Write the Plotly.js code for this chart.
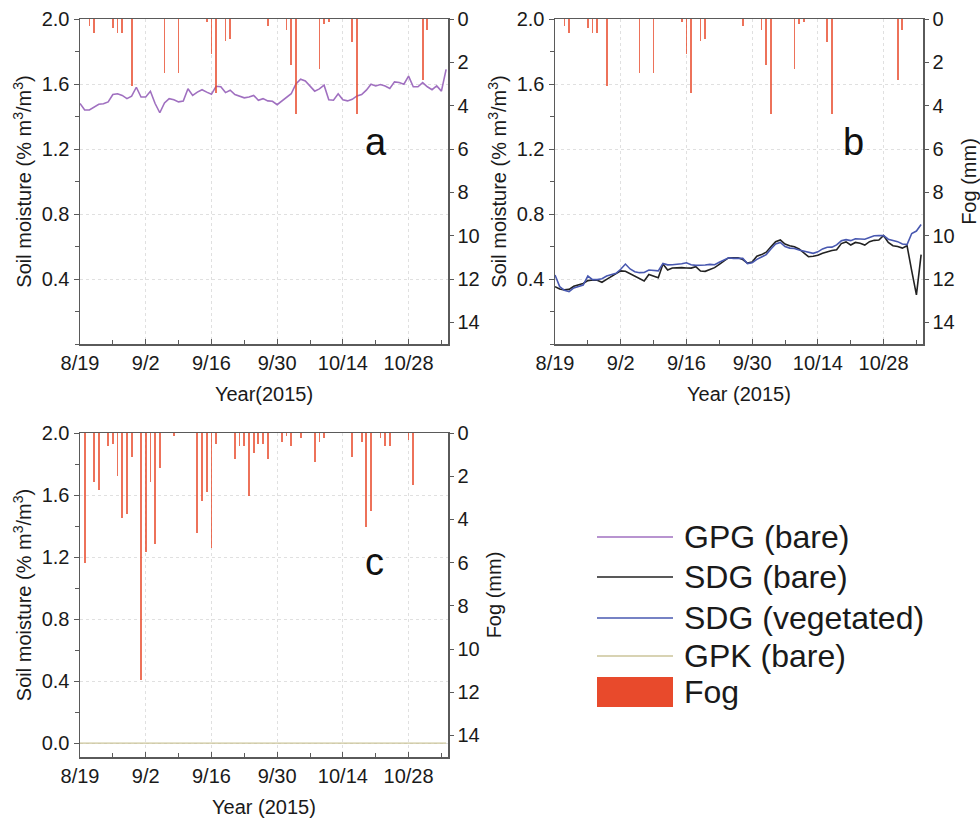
<!DOCTYPE html>
<html>
<head>
<meta charset="utf-8">
<script src="https://cdn.plot.ly/plotly-3.0.1.min.js"></script>
<style>html,body{margin:0;padding:0;background:#fff;}#chart{width:980px;height:824px;}</style>
</head>
<body>
<div id="chart"></div>
<script>
// ---- data (daily, day 0 = 2015-08-19) ----
const startDate = '2015-08-19';
const gpgBare = [1.48,1.44,1.44,1.46,1.475,1.478,1.49,1.535,1.54,1.53,1.51,1.525,1.58,1.52,1.52,1.555,1.48,1.423,1.483,1.51,
  1.503,1.49,1.495,1.571,1.53,1.55,1.565,1.55,1.537,1.586,1.583,1.547,1.562,1.535,1.525,1.515,1.52,1.53,1.5,1.51,
  1.496,1.494,1.473,1.496,1.516,1.54,1.60,1.63,1.619,1.588,1.556,1.57,1.593,1.503,1.5,1.54,1.503,1.496,1.506,1.527,
  1.535,1.562,1.599,1.588,1.597,1.588,1.572,1.613,1.609,1.599,1.648,1.583,1.583,1.609,1.583,1.565,1.588,1.556,1.69];
const sdgBare = [0.353,0.338,0.333,0.336,0.355,0.365,0.373,0.39,0.394,0.392,0.38,0.398,0.415,0.431,0.45,0.448,0.432,0.415,0.40,0.388,
  0.428,0.418,0.408,0.492,0.455,0.468,0.47,0.47,0.468,0.467,0.476,0.449,0.447,0.46,0.47,0.49,0.51,0.531,0.53,0.531,
  0.52,0.498,0.505,0.54,0.55,0.565,0.598,0.63,0.64,0.615,0.605,0.598,0.585,0.56,0.537,0.54,0.546,0.558,0.568,0.575,
  0.58,0.618,0.628,0.609,0.625,0.62,0.609,0.63,0.638,0.64,0.668,0.625,0.605,0.6,0.59,0.605,0.45,0.302,0.55];
const sdgVeg = [0.425,0.353,0.33,0.322,0.345,0.355,0.363,0.418,0.396,0.396,0.402,0.418,0.425,0.435,0.46,0.492,0.462,0.445,0.439,0.44,
  0.455,0.452,0.45,0.496,0.487,0.488,0.49,0.494,0.5,0.488,0.484,0.484,0.486,0.49,0.488,0.503,0.515,0.531,0.527,0.528,
  0.527,0.495,0.5,0.521,0.538,0.55,0.585,0.615,0.625,0.6,0.59,0.588,0.578,0.572,0.565,0.558,0.567,0.585,0.595,0.596,
  0.61,0.635,0.642,0.636,0.648,0.646,0.645,0.656,0.666,0.668,0.667,0.645,0.638,0.63,0.615,0.612,0.68,0.695,0.735];
const gpkBare = [0,0,0,0,0,0,0,0,0,0,0,0,0,0,0,0,0,0,0,0,
  0,0,0,0,0,0,0,0,0,0,0,0,0,0,0,0,0,0,0,0,
  0,0,0,0,0,0,0,0,0,0,0,0,0,0,0,0,0,0,0,0,
  0,0,0,0,0,0,0,0,0,0,0,0,0,0,0,0,0,0,0];
// fog (mm) at SDG / GPG sites (panels a, b)
const fogDaysAB = [2,3,7,8,9,11,18,21,27,28,29,31,32,40,44,45,46,51,52,53,58,59,73,74];
const fogAB     = [0.3,0.63,0.43,0.63,0.63,3.1,2.5,2.5,0.12,1.6,3.4,1.0,0.94,0.3,0.5,2.1,4.4,2.3,0.25,0.12,1.05,4.4,2.8,0.5];
// fog (mm) at GPK site (panel c)
const fogDaysC = [1,3,4,6,7,8,9,10,11,13,14,15,16,17,20,25,26,27,28,29,33,34,35,36,37,38,39,40,43,44,45,47,50,51,52,58,60,61,62,64,65,66,70,71];
const fogC     = [6.0,2.25,2.63,0.6,0.51,2.0,3.94,3.74,1.12,11.45,5.53,2.25,5.13,1.63,0.12,4.63,3.14,2.74,5.33,0.51,1.22,0.6,0.6,2.91,0.91,0.51,0.51,1.22,0.4,0.14,0.6,0.22,1.32,0.4,0.22,1.12,0.4,4.33,3.63,0.22,0.6,0.6,0.32,2.4];
const tickLabelsLeft = ['0.0','0.4','0.8','1.2','1.6','2.0'];
const tickLabelsFog = ['0','2','4','6','8','10','12','14'];
const seriesNames = ['GPG (bare)','SDG (bare)','SDG (vegetated)','GPK (bare)','Fog'];
const panelLabels = ['a','b','c'];

// ---- helpers ----
const DAY = 86400000;
const t0 = Date.UTC(2015, 7, 19);
function dayToDate(i){ const d = new Date(t0 + i*DAY); return d.toISOString().slice(0,10); }
const daysAll = gpgBare.map((_, i) => dayToDate(i));
const xEnd = new Date(t0 + 78.4*DAY).toISOString().replace('T',' ').slice(0,19);

const C_GPG = '#a070c0', C_SDGB = '#222222', C_SDGV = '#4858b0', C_GPK = '#cbc59a', C_FOG = '#e84a2c';
const FONT = 'Liberation Sans, Arial, sans-serif';
const TXT = '#1a1a1a';

const barStyle = {color:C_FOG, opacity:0.78, line:{width:0}};
const traces = [
  {x: daysAll, y: gpgBare, type:'scatter', mode:'lines', name:seriesNames[0], line:{color:C_GPG, width:1.6}, xaxis:'x', yaxis:'y'},
  {x: daysAll, y: sdgBare, type:'scatter', mode:'lines', name:seriesNames[1], line:{color:C_SDGB, width:1.6}, xaxis:'x2', yaxis:'y3'},
  {x: daysAll, y: sdgVeg, type:'scatter', mode:'lines', name:seriesNames[2], line:{color:C_SDGV, width:1.6}, xaxis:'x2', yaxis:'y3'},
  {x: daysAll, y: gpkBare, type:'scatter', mode:'lines', name:seriesNames[3], line:{color:C_GPK, width:1.3}, xaxis:'x3', yaxis:'y5'},
  {x: fogDaysAB.map(dayToDate), y: fogAB, type:'bar', name:seriesNames[4], marker:barStyle, width:0.38*DAY, xaxis:'x', yaxis:'y2'},
  {x: fogDaysAB.map(dayToDate), y: fogAB, type:'bar', name:seriesNames[4], marker:barStyle, width:0.38*DAY, xaxis:'x2', yaxis:'y4'},
  {x: fogDaysC.map(dayToDate), y: fogC, type:'bar', name:seriesNames[4], marker:barStyle, width:0.38*DAY, xaxis:'x3', yaxis:'y6'}
];

const axisLine = {showline:true, linecolor:'#5a5a5a', linewidth:1.5};
const GRID = '#e0e0e0';
function xAx(domain, anchor, title){
  return Object.assign({}, axisLine, {
    domain, anchor, type:'date', range:[startDate, xEnd], mirror:true,
    tick0:startDate, dtick:14*DAY, tickformat:'%-m/%-d', ticks:'inside', ticklen:5, tickcolor:'#5a5a5a',
    minor:{dtick:7*DAY, tick0:startDate, ticks:'inside', ticklen:4, tickcolor:'#5a5a5a', showgrid:false},
    showgrid:true, gridcolor:GRID, griddash:'dot', gridwidth:1,
    tickfont:{size:20, family:FONT, color:TXT},
    title:{text:title, font:{size:20, family:FONT, color:TXT}, standoff:14},
    zeroline:false
  });
}
function yLeft(domain, anchor, range, vals){
  return Object.assign({}, axisLine, {
    domain, anchor, range, tickvals:vals, ticktext:vals.map(v=>v.toFixed(1)),
    ticks:'outside', ticklen:5, tickcolor:'#5a5a5a',
    minor:{dtick:0.2, tick0:0, ticks:'outside', ticklen:4, tickcolor:'#5a5a5a', showgrid:false},
    showgrid:true, gridcolor:GRID, griddash:'dot', gridwidth:1, zeroline:false,
    tickfont:{size:20, family:FONT, color:TXT},
    title:{text:'Soil moisture (% m<sup>3</sup>/m<sup>3</sup>)', font:{size:20, family:FONT, color:TXT}, standoff:4}
  });
}
function yRight(overlay, anchor, title){
  const ax = Object.assign({}, axisLine, {
    overlaying:overlay, anchor, side:'right', range:[15,0],
    tickvals:tickLabelsFog.map(Number), ticktext:tickLabelsFog,
    ticks:'outside', ticklen:4, tickcolor:'#5a5a5a', showgrid:false, zeroline:false,
    tickfont:{size:20, family:FONT, color:TXT}
  });
  if (title) ax.title = {text:title, font:{size:20, family:FONT, color:TXT}, standoff:8};
  return ax;
}

const dA = [80/980, 448/980], dB = [555/980, 923/980];
const dTop = [1-344/824, 1-19/824], dBot = [1-757/824, 1-433/824];
const leftValsAB = tickLabelsLeft.slice(1).map(Number);
const leftValsC = tickLabelsLeft.map(Number);

// legend drawn as paper-positioned swatches + text
const legRowsY = [537, 577, 618, 656, 692];
const legColors = [C_GPG, C_SDGB, C_SDGV, C_GPK];
const legWidths = [1.6, 1.6, 1.6, 1.3];
const px = v => v/980, py = v => 1 - v/824;
const shapes = [];
legColors.forEach((c, i) => shapes.push({type:'line', xref:'paper', yref:'paper',
  x0:px(597), x1:px(673), y0:py(legRowsY[i]), y1:py(legRowsY[i]), line:{color:c, width:legWidths[i]}}));
shapes.push({type:'rect', xref:'paper', yref:'paper', x0:px(597), x1:px(673), y0:py(707), y1:py(677),
  fillcolor:C_FOG, line:{width:0}});
const annotations = seriesNames.map((n, i) => ({text:n, xref:'paper', yref:'paper', x:px(682), y:py(legRowsY[i]),
  xanchor:'left', yanchor:'middle', showarrow:false, font:{size:32, family:FONT, color:TXT}}));
[[376,142],[853,142],[374,562]].forEach((p, i) => annotations.push({text:panelLabels[i], xref:'paper', yref:'paper',
  x:px(p[0]), y:py(p[1]), xanchor:'center', yanchor:'middle', showarrow:false, font:{size:38, family:FONT, color:'#111'}}));

const layout = {
  width:980, height:824, paper_bgcolor:'#fff', plot_bgcolor:'#fff',
  margin:{l:0, r:0, t:0, b:0},
  font:{family:FONT, color:TXT},
  barmode:'overlay', bargap:0, showlegend:false,
  xaxis: xAx(dA, 'y', 'Year(2015)'),
  yaxis: yLeft(dTop, 'x', [0, 2.0], leftValsAB),
  yaxis2: yRight('y', 'x', null),
  xaxis2: xAx(dB, 'y3', 'Year (2015)'),
  yaxis3: yLeft(dTop, 'x2', [0, 2.0], leftValsAB),
  yaxis4: yRight('y3', 'x2', 'Fog (mm)'),
  xaxis3: xAx(dA, 'y5', 'Year (2015)'),
  yaxis5: yLeft(dBot, 'x3', [-0.09, 2.0], leftValsC),
  yaxis6: yRight('y5', 'x3', 'Fog (mm)'),
  shapes, annotations
};

Plotly.newPlot('chart', traces, layout, {staticPlot:true, displayModeBar:false});
</script>
</body>
</html>
